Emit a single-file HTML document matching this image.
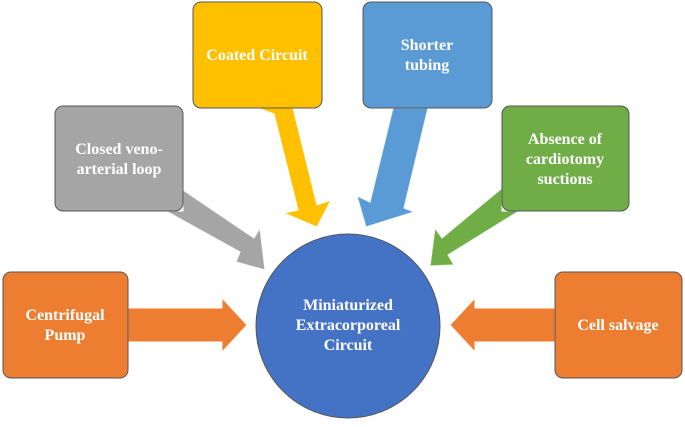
<!DOCTYPE html>
<html><head><meta charset="utf-8"><style>
body{margin:0;background:#fff;width:685px;height:422px;overflow:hidden}
svg text{font-family:"Liberation Serif",serif;font-weight:bold;font-size:16px;fill:#fff;text-anchor:middle}
</style></head><body>
<svg width="685" height="422" viewBox="0 0 685 422">
<g stroke="#fff" stroke-width="1.2" stroke-opacity="0.8">
<!-- arrows -->
<polygon points="128,308 222,308 222,298 247,325 222,352 222,342 128,342" fill="#ED7D31"/>
<polygon points="555,308 475,308 475,298 450,325 475,352 475,342 555,342" fill="#ED7D31"/>
<polygon points="258,108 293,108 317,205 331,200 317,227 284,213 298,210 274,114" fill="#FFC000"/>
<polygon points="393,108 428,108 404,208 414,212 366,227 357,196 370,202 393,108" fill="#5B9BD5"/>
<polygon points="183,190 183,211 166,211 240,252 236,262 265,270 260,228 254,238" fill="#A5A5A5"/>
<polygon points="502,188 502,211 519,211 448,255 454,265 430,266 435,228 442,238" fill="#70AD47"/>
</g>
<g stroke="#555" stroke-width="1">
<rect x="3" y="272" width="125" height="106" rx="8" fill="#ED7D31"/>
<rect x="555" y="272" width="127" height="106" rx="8" fill="#ED7D31"/>
<rect x="55" y="106" width="128" height="105" rx="8" fill="#A5A5A5"/>
<rect x="193" y="2" width="129" height="106" rx="8" fill="#FFC000"/>
<rect x="363" y="2" width="129" height="106" rx="8" fill="#5B9BD5"/>
<rect x="502" y="106" width="127" height="105" rx="8" fill="#70AD47"/>
<circle cx="348" cy="326" r="92" fill="#4472C4"/>
</g>
<text x="65" y="320">Centrifugal</text><text x="65" y="340">Pump</text>
<text x="618" y="330">Cell salvage</text>
<text x="119" y="154">Closed veno-</text><text x="119" y="174">arterial loop</text>
<text x="257" y="60">Coated Circuit</text>
<text x="427" y="50">Shorter</text><text x="427" y="70">tubing</text>
<text x="565" y="144">Absence of</text><text x="565" y="164">cardiotomy</text><text x="565" y="184">suctions</text>
<text x="348" y="310">Miniaturized</text><text x="348" y="330">Extracorporeal</text><text x="348" y="350">Circuit</text>
</svg>
</body></html>
